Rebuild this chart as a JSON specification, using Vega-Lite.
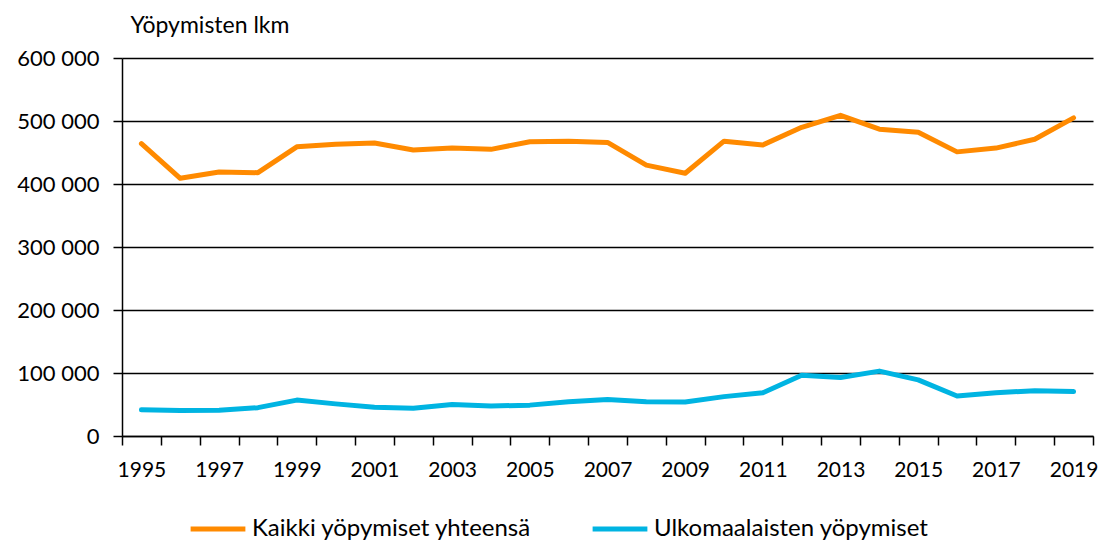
{
  "$schema": "https://vega.github.io/schema/vega-lite/v6.json",
  "autosize": "none",
  "width": 971,
  "height": 378,
  "padding": {"left": 122, "top": 58, "right": 11, "bottom": 109},
  "background": "white",
  "config": {
    "view": {"stroke": null},
    "font": "Lato",
    "axis": {"labelFont": "Lato", "titleFont": "Lato", "labelColor": "#000", "titleColor": "#000"}
  },
  "data": {
    "values": [
      {"year": 1995, "series": "Kaikki yöpymiset yhteensä", "value": 464000},
      {"year": 1996, "series": "Kaikki yöpymiset yhteensä", "value": 409000},
      {"year": 1997, "series": "Kaikki yöpymiset yhteensä", "value": 419000},
      {"year": 1998, "series": "Kaikki yöpymiset yhteensä", "value": 418000},
      {"year": 1999, "series": "Kaikki yöpymiset yhteensä", "value": 459000},
      {"year": 2000, "series": "Kaikki yöpymiset yhteensä", "value": 463000},
      {"year": 2001, "series": "Kaikki yöpymiset yhteensä", "value": 465000},
      {"year": 2002, "series": "Kaikki yöpymiset yhteensä", "value": 454000},
      {"year": 2003, "series": "Kaikki yöpymiset yhteensä", "value": 457000},
      {"year": 2004, "series": "Kaikki yöpymiset yhteensä", "value": 455000},
      {"year": 2005, "series": "Kaikki yöpymiset yhteensä", "value": 467000},
      {"year": 2006, "series": "Kaikki yöpymiset yhteensä", "value": 468000},
      {"year": 2007, "series": "Kaikki yöpymiset yhteensä", "value": 466000},
      {"year": 2008, "series": "Kaikki yöpymiset yhteensä", "value": 430000},
      {"year": 2009, "series": "Kaikki yöpymiset yhteensä", "value": 417000},
      {"year": 2010, "series": "Kaikki yöpymiset yhteensä", "value": 468000},
      {"year": 2011, "series": "Kaikki yöpymiset yhteensä", "value": 462000},
      {"year": 2012, "series": "Kaikki yöpymiset yhteensä", "value": 490000},
      {"year": 2013, "series": "Kaikki yöpymiset yhteensä", "value": 509000},
      {"year": 2014, "series": "Kaikki yöpymiset yhteensä", "value": 487000},
      {"year": 2015, "series": "Kaikki yöpymiset yhteensä", "value": 482000},
      {"year": 2016, "series": "Kaikki yöpymiset yhteensä", "value": 451000},
      {"year": 2017, "series": "Kaikki yöpymiset yhteensä", "value": 457000},
      {"year": 2018, "series": "Kaikki yöpymiset yhteensä", "value": 471000},
      {"year": 2019, "series": "Kaikki yöpymiset yhteensä", "value": 505000},
      {"year": 1995, "series": "Ulkomaalaisten yöpymiset", "value": 41500},
      {"year": 1996, "series": "Ulkomaalaisten yöpymiset", "value": 40500},
      {"year": 1997, "series": "Ulkomaalaisten yöpymiset", "value": 41000},
      {"year": 1998, "series": "Ulkomaalaisten yöpymiset", "value": 45000},
      {"year": 1999, "series": "Ulkomaalaisten yöpymiset", "value": 57000},
      {"year": 2000, "series": "Ulkomaalaisten yöpymiset", "value": 51000},
      {"year": 2001, "series": "Ulkomaalaisten yöpymiset", "value": 45500},
      {"year": 2002, "series": "Ulkomaalaisten yöpymiset", "value": 44000},
      {"year": 2003, "series": "Ulkomaalaisten yöpymiset", "value": 50000},
      {"year": 2004, "series": "Ulkomaalaisten yöpymiset", "value": 47500},
      {"year": 2005, "series": "Ulkomaalaisten yöpymiset", "value": 49000},
      {"year": 2006, "series": "Ulkomaalaisten yöpymiset", "value": 54500},
      {"year": 2007, "series": "Ulkomaalaisten yöpymiset", "value": 58000},
      {"year": 2008, "series": "Ulkomaalaisten yöpymiset", "value": 54500},
      {"year": 2009, "series": "Ulkomaalaisten yöpymiset", "value": 54000},
      {"year": 2010, "series": "Ulkomaalaisten yöpymiset", "value": 62500},
      {"year": 2011, "series": "Ulkomaalaisten yöpymiset", "value": 68500},
      {"year": 2012, "series": "Ulkomaalaisten yöpymiset", "value": 96500},
      {"year": 2013, "series": "Ulkomaalaisten yöpymiset", "value": 93000},
      {"year": 2014, "series": "Ulkomaalaisten yöpymiset", "value": 103000},
      {"year": 2015, "series": "Ulkomaalaisten yöpymiset", "value": 89000},
      {"year": 2016, "series": "Ulkomaalaisten yöpymiset", "value": 63500},
      {"year": 2017, "series": "Ulkomaalaisten yöpymiset", "value": 68500},
      {"year": 2018, "series": "Ulkomaalaisten yöpymiset", "value": 72000},
      {"year": 2019, "series": "Ulkomaalaisten yöpymiset", "value": 70500}
    ]
  },
  "mark": {"type": "line", "strokeWidth": 5, "strokeJoin": "round", "strokeCap": "round"},
  "encoding": {
    "x": {
      "field": "year",
      "type": "ordinal",
      "bandPosition": 0.5,
      "scale": {"type": "band", "paddingInner": 0, "paddingOuter": 0},
      "axis": {
        "title": null,
        "tickBand": "extent",
        "labelAngle": 0,
        "labelFontSize": 21,
        "labelPadding": 14,
        "labelExpr": "datum.value % 2 == 1 ? datum.label : ''",
        "domainColor": "#000",
        "domainWidth": 1.5,
        "tickColor": "#000",
        "tickWidth": 1.5,
        "tickSize": 9,
        "grid": false
      }
    },
    "y": {
      "field": "value",
      "type": "quantitative",
      "scale": {"domain": [0, 600000], "nice": false},
      "axis": {
        "title": "Yöpymisten lkm",
        "titleAngle": 0,
        "titleAlign": "left",
        "titleBaseline": "middle",
        "titleX": 8,
        "titleY": -33,
        "titleFontSize": 23,
        "titleFontWeight": "normal",
        "values": [0, 100000, 200000, 300000, 400000, 500000, 600000],
        "labelExpr": "replace(format(datum.value, ','), ',', ' ')",
        "labelFontSize": 22,
        "labelPadding": 14,
        "domainColor": "#000",
        "domainWidth": 1.5,
        "tickColor": "#000",
        "tickWidth": 1.5,
        "tickSize": 9,
        "grid": true,
        "gridColor": "#000",
        "gridWidth": 1.5
      }
    },
    "color": {
      "field": "series",
      "type": "nominal",
      "scale": {
        "domain": ["Kaikki yöpymiset yhteensä", "Ulkomaalaisten yöpymiset"],
        "range": ["#FF8A00", "#00B4E2"]
      },
      "legend": {
        "title": null,
        "orient": "none",
        "direction": "horizontal",
        "legendX": 66,
        "legendY": 441,
        "symbolType": "stroke",
        "symbolSize": 3000,
        "symbolStrokeWidth": 5,
        "labelFontSize": 24,
        "labelColor": "#000",
        "labelOffset": 4,
        "labelLimit": 400,
        "columnPadding": 50
      }
    }
  }
}
